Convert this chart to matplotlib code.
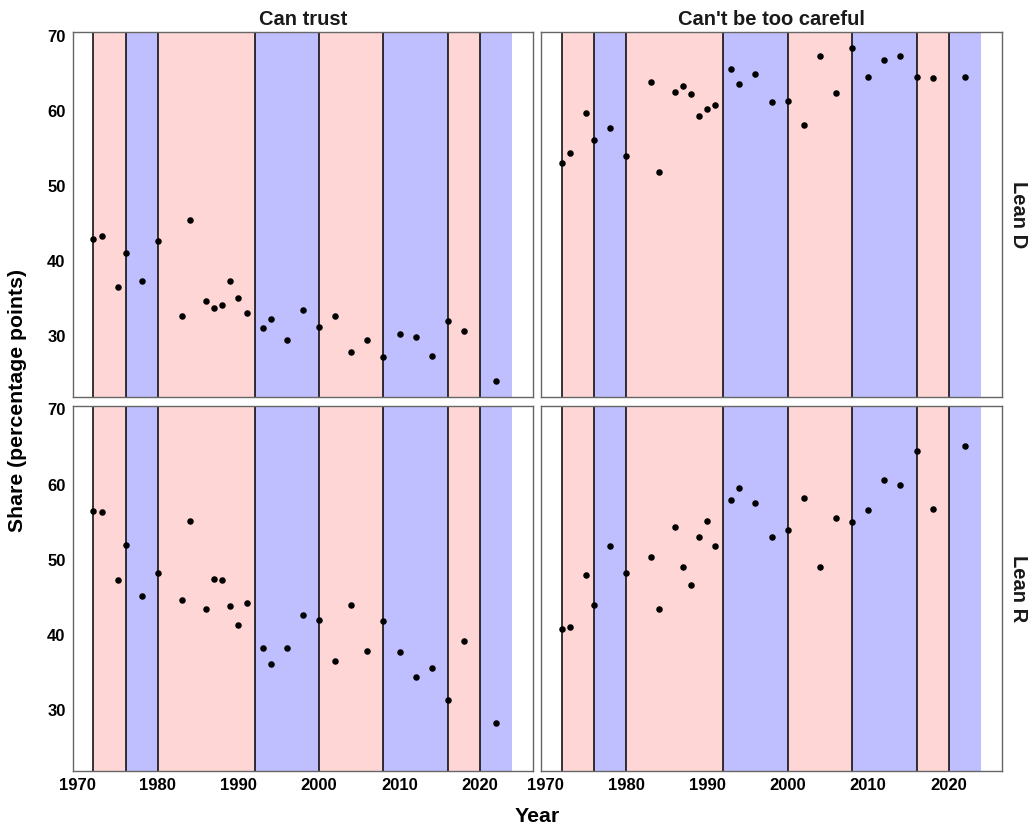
import matplotlib
matplotlib.use("Agg")
import matplotlib.pyplot as plt

years = [1972, 1973, 1975, 1976, 1978, 1980, 1983, 1984, 1986, 1987, 1988, 1989,
         1990, 1991, 1993, 1994, 1996, 1998, 2000, 2002, 2004, 2006, 2008, 2010,
         2012, 2014, 2016, 2018, 2022]

trust_lean_d = [42.9, 43.3, 36.5, 41.1, 37.3, 42.6, 32.6, 45.4, 34.6, 33.7, 34.1, 37.3,
                35.1, 33.1, 31.0, 32.2, 29.5, 33.4, 31.2, 32.7, 27.9, 29.5, 27.2, 30.2,
                29.9, 27.3, 32.0, 30.6, 24.0]
trust_lean_r = [56.5, 56.3, 47.3, 52.0, 45.2, 48.3, 44.6, 55.1, 43.4, 47.5, 47.3, 43.8,
                41.3, 44.3, 38.3, 36.1, 38.3, 42.7, 42.0, 36.5, 44.0, 37.9, 41.9, 37.7,
                34.4, 35.6, 31.4, 39.2, 28.3]
careful_lean_d = [53.1, 54.4, 59.7, 56.1, 57.8, 54.0, 63.9, 51.9, 62.6, 63.3, 62.3, 59.4,
                  60.3, 60.8, 65.6, 63.6, 64.9, 61.2, 61.3, 58.1, 67.3, 62.4, 68.4, 64.6,
                  66.8, 67.4, 64.5, 64.4, 64.6]
careful_lean_r = [40.8, 41.0, 48.0, 44.0, 51.9, 48.3, 50.4, 43.5, 54.3, 49.1, 46.6, 53.0,
                  55.2, 51.9, 57.9, 59.6, 57.6, 53.0, 54.0, 58.2, 49.1, 55.5, 55.0, 56.6,
                  60.6, 60.0, 64.5, 56.7, 65.1]

term_start = [1972, 1976, 1980, 1992, 2000, 2008, 2016, 2020]
term_end = [1976, 1980, 1992, 2000, 2008, 2016, 2020, 2024]
term_party = ["R", "D", "R", "D", "R", "D", "R", "D"]

col_labels = ["Can trust", "Can't be too careful"]
row_labels = ["Lean D", "Lean R"]
x_ticks = [1970, 1980, 1990, 2000, 2010, 2020]
y_ticks = [30, 40, 50, 60, 70]

party_color = {"R": "#FFD6D6", "D": "#BFBFFF"}

plt.rcParams["font.family"] = ["Liberation Sans", "DejaVu Sans"]
W, H = 1030, 831
fig = plt.figure(figsize=(W / 100, H / 100), dpi=100)

col_x = [(72.5, 533.3), (541.0, 1002.0)]
row_y = [(32.3, 396.7), (405.7, 771.0)]

data = {(0, 0): trust_lean_d, (1, 0): trust_lean_r,
        (0, 1): careful_lean_d, (1, 1): careful_lean_r}

for r in range(2):
    for c in range(2):
        x0, x1 = col_x[c]
        y0, y1 = row_y[r]
        ax = fig.add_axes([x0 / W, 1 - y1 / H, (x1 - x0) / W, (y1 - y0) / H])
        ax.set_xlim(1969.4, 2026.6)
        ax.set_ylim(21.9, 70.5)
        for s, e, p in zip(term_start, term_end, term_party):
            ax.axvspan(s, e, color=party_color[p], lw=0, zorder=1)
        for s in term_start:
            ax.axvline(s, color="black", lw=1.1, zorder=2)
        ax.scatter(years, data[(r, c)], s=22, color="black", zorder=3, linewidths=0)
        for sp in ax.spines.values():
            sp.set_color("#666666")
            sp.set_linewidth(1.0)
            sp.set_zorder(4)
        ax.set_xticks(x_ticks)
        ax.set_yticks(y_ticks)
        ax.tick_params(length=0, labelsize=12, pad=5)
        for lab in ax.get_xticklabels() + ax.get_yticklabels():
            lab.set_fontweight("bold")
            lab.set_color("black")
        if c == 1:
            ax.set_yticklabels([])
        if r == 0:
            ax.set_xticklabels([])
        if r == 0:
            ax.set_title(col_labels[c], fontsize=14.5, fontweight="bold", color="#1a1a1a", pad=5)
        if c == 1:
            ax.text(1.0 + 7 / (x1 - x0), 0.5, row_labels[r], transform=ax.transAxes,
                    rotation=270, ha="left", va="center", fontsize=14.5,
                    fontweight="bold", color="#1a1a1a")

fig.text(18 / W, 1 - 400 / H, "Share (percentage points)", rotation=90, ha="center",
         va="center", fontsize=15.3, fontweight="bold")
fig.text(537 / W, 1 - 817 / H, "Year", ha="center", va="center", fontsize=15.3,
         fontweight="bold")

fig.savefig("out.png", dpi=100, facecolor="white")
